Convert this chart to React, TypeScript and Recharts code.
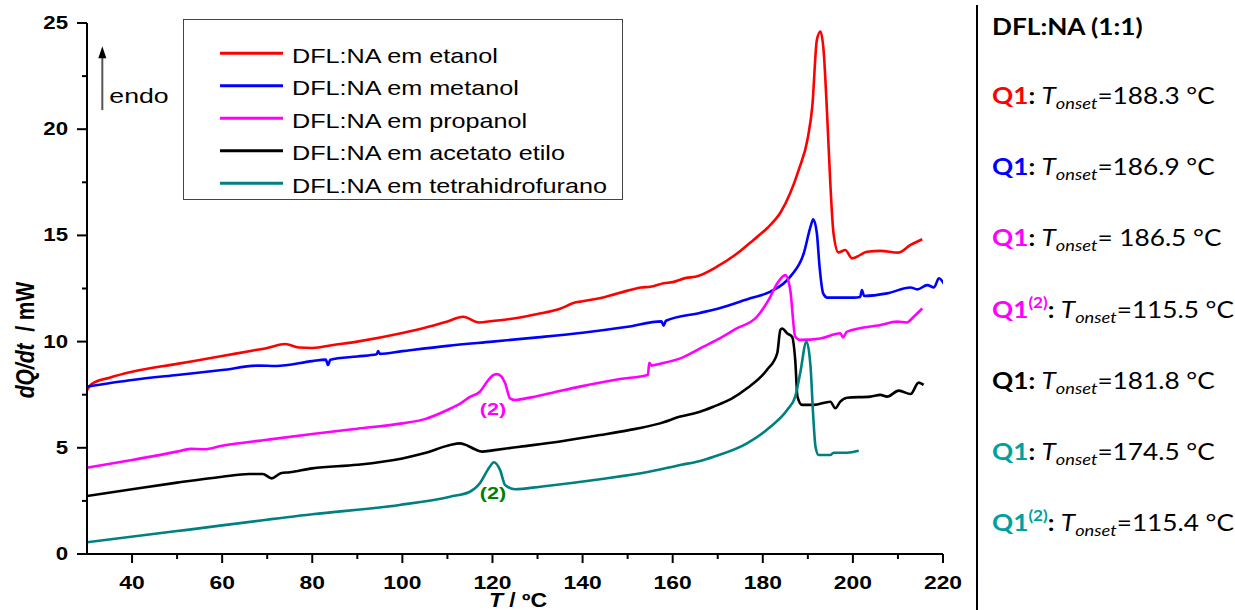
import { LineChart, Line, XAxis, YAxis, ReferenceDot, ReferenceLine } from "recharts";

// DSC curves, DFL:NA (1:1) co-crystals from different solvents
const etanolT = [30, 31, 35, 40, 50, 60, 66, 70, 74, 77, 80, 85, 90, 100, 105, 110, 113.5, 117, 120, 125, 130, 135, 138.5, 140, 145, 150, 153, 155, 158, 160, 163, 165, 170, 174, 178, 181, 184, 186, 188, 190, 191, 192, 192.8, 193.5, 194.3, 195, 195.7, 196.8, 198.3, 199.8, 203.2, 206.1, 210.1, 212.8, 215.4];
const etanolQ = [7.72, 8.0, 8.3, 8.58, 8.95, 9.32, 9.55, 9.7, 9.89, 9.72, 9.7, 9.85, 10.0, 10.4, 10.65, 10.95, 11.17, 10.9, 10.97, 11.1, 11.3, 11.55, 11.85, 11.9, 12.1, 12.4, 12.55, 12.58, 12.75, 12.8, 13.0, 13.05, 13.55, 14.1, 14.8, 15.35, 16.1, 16.95, 18.1, 19.6, 21.1, 24.2, 24.6, 23.7, 20.6, 17.4, 15.1, 14.2, 14.31, 13.92, 14.23, 14.27, 14.19, 14.55, 14.82];

const metanolT = [30, 40, 50, 60, 68, 72, 80, 83, 83.5, 84, 90, 94.3, 94.6, 95, 100, 110, 120, 130, 140, 150, 157.5, 158, 158.5, 166, 170, 177.2, 181.7, 186.1, 189.1, 190.6, 191.2, 192, 192.6, 193.4, 194.3, 200.2, 201.6, 202, 202.5, 207.6, 212.8, 214.3, 216.5, 218, 219.1, 220.2];
const metanolQ = [7.88, 8.19, 8.43, 8.66, 8.87, 8.85, 9.08, 9.15, 8.9, 9.15, 9.3, 9.4, 9.55, 9.42, 9.55, 9.8, 10.0, 10.2, 10.42, 10.7, 10.95, 10.75, 10.98, 11.35, 11.55, 12.04, 12.35, 13.06, 14.16, 15.41, 15.76, 15.1, 13.53, 12.27, 12.07, 12.07, 12.1, 12.43, 12.15, 12.27, 12.55, 12.46, 12.66, 12.55, 12.98, 12.72];

const propanolT = [30, 40, 50, 53, 56, 60, 70, 80, 90, 100, 105, 110, 113, 115, 117.2, 118.8, 120, 121, 122, 122.8, 123.9, 125, 128, 132.8, 139.4, 148.3, 154.5, 154.8, 155.3, 157, 161.7, 166.1, 170, 174, 178.7, 181.3, 183.2, 185, 186.1, 187.2, 188.3, 192.8, 197.2, 197.8, 198.7, 206.1, 209.8, 212, 213.5, 215.4];
const propanolQ = [4.06, 4.43, 4.82, 4.95, 4.93, 5.1, 5.38, 5.65, 5.9, 6.15, 6.35, 6.78, 7.1, 7.4, 7.64, 8.11, 8.4, 8.47, 8.35, 8.05, 7.33, 7.25, 7.35, 7.57, 7.88, 8.24, 8.43, 9.0, 8.87, 8.95, 9.21, 9.68, 10.1, 10.6, 11.17, 11.96, 12.74, 13.13, 12.43, 10.23, 10.08, 10.15, 10.39, 10.2, 10.47, 10.78, 10.94, 10.9, 11.17, 11.56];

const acetatoT = [30, 40, 50, 60, 66, 69, 71, 73, 75, 80, 90, 100, 105, 110.6, 112.8, 114.5, 116.1, 117.7, 120, 126.1, 135, 143.9, 150, 157.2, 161.7, 166.1, 169.1, 173, 176.5, 180.9, 183.2, 183.9, 184.3, 185.4, 186.5, 187.2, 187.7, 188.7, 191.3, 195, 196.1, 197.2, 198.7, 203.9, 206.1, 207.6, 210.2, 212.8, 214.6, 215.7];
const acetatoQ = [2.73, 3.05, 3.36, 3.64, 3.77, 3.77, 3.56, 3.8, 3.85, 4.03, 4.2, 4.5, 4.75, 5.13, 5.21, 5.1, 4.93, 4.82, 4.88, 5.05, 5.3, 5.6, 5.82, 6.15, 6.47, 6.7, 6.94, 7.3, 7.8, 8.66, 9.45, 10.55, 10.62, 10.39, 10.23, 9.13, 7.41, 7.02, 7.02, 7.17, 6.86, 7.17, 7.36, 7.41, 7.49, 7.41, 7.69, 7.53, 8.07, 7.96];

const thfT = [30, 50, 80, 99.4, 110.6, 115, 117.2, 119.4, 120.3, 121.7, 122.8, 125, 130.6, 143.9, 155, 161.7, 166.1, 169.1, 176.5, 181.7, 185.4, 187.2, 188.3, 189.7, 190.6, 191.2, 191.7, 192.4, 195, 195.7, 198.7, 201.3];
const thfQ = [0.55, 1.08, 1.87, 2.31, 2.7, 2.93, 3.33, 4.11, 4.32, 3.95, 3.25, 3.05, 3.17, 3.52, 3.88, 4.19, 4.38, 4.58, 5.21, 5.99, 6.78, 7.41, 8.51, 10.0, 8.82, 6.47, 5.05, 4.66, 4.66, 4.77, 4.77, 4.86];

const xTicks = [40, 50, 60, 70, 80, 90, 100, 110, 120, 130, 140, 150, 160, 170, 180, 190, 200, 210, 220];
const yTicks = [0, 2.5, 5, 7.5, 10, 12.5, 15, 17.5, 20, 22.5, 25];

const onsetValues = ["188.3", "186.9", " 186.5", "115.5", "181.8", "174.5", "115.4"];
const onsetColors = ["#ff0000", "#0000ff", "#ff00ff", "#ff00ff", "#000000", "#00a0a0", "#00a0a0"];
const onsetSecond = [false, false, false, true, false, false, true];

const zip = (t: number[], q: number[]) => t.map((v, i) => ({ t: v, q: q[i] }));

const series = [
  { name: "DFL:NA em etanol", color: "#ff0000", data: zip(etanolT, etanolQ) },
  { name: "DFL:NA em metanol", color: "#0000ff", data: zip(metanolT, metanolQ) },
  { name: "DFL:NA em propanol", color: "#ff00ff", data: zip(propanolT, propanolQ) },
  { name: "DFL:NA em acetato etilo", color: "#000000", data: zip(acetatoT, acetatoQ) },
  { name: "DFL:NA em tetrahidrofurano", color: "#008080", data: zip(thfT, thfQ) },
];

const FONT = "'Liberation Sans', Arial, sans-serif";
const SX = 1.27; // the picture is stretched sideways

function XTick(props: any) {
  const { x, y, payload } = props;
  const major = payload.value % 20 === 0;
  return (
    <g>
      <line x1={x} x2={x} y1={y} y2={y + (major ? 9 : 5)} stroke="#000" strokeWidth={2} />
      {major && (
        <text transform={`translate(${x},${y + 35}) scale(${SX},1)`} textAnchor="middle" fontFamily={FONT} fontWeight="bold" fontSize={18} fill="#000">
          {payload.value}
        </text>
      )}
    </g>
  );
}

function YTick(props: any) {
  const { x, y, payload } = props;
  const major = payload.value % 5 === 0;
  return (
    <g>
      <line x1={x} x2={x - (major ? 10 : 5)} y1={y} y2={y} stroke="#000" strokeWidth={2} />
      {major && (
        <text transform={`translate(${x - 19},${y + 6}) scale(${SX},1)`} textAnchor="end" fontFamily={FONT} fontWeight="bold" fontSize={17.5} fill="#000">
          {payload.value}
        </text>
      )}
    </g>
  );
}

const note = (color: string) => (p: any) => (
  <text transform={`translate(${p.cx},${p.cy + 6}) scale(${SX},1)`} textAnchor="middle" fontFamily={FONT} fontWeight="bold" fontSize={17} fill={color}>
    (2)
  </text>
);

const endoArrow = (p: any) => {
  const x = p.x1;
  const yb = Math.max(p.y1, p.y2);
  const yt = Math.min(p.y1, p.y2);
  return (
    <g>
      <line x1={x} x2={x} y1={yb} y2={yt + 10} stroke="#555" strokeWidth={2} />
      <polygon points={`${x},${yt} ${x - 4},${yt + 12} ${x + 4},${yt + 12}`} fill="#000" />
      <text transform={`translate(${x + 7},${yb - 7}) scale(${SX},1)`} fontFamily={FONT} fontSize={21} fill="#000">
        endo
      </text>
    </g>
  );
};

export default function App() {
  return (
    <div style={{ position: "absolute", left: 0, top: 0, width: 1235, height: 610, background: "#fff", overflow: "hidden" }}>
      <LineChart width={980} height={610} margin={{ top: 23, right: 37, bottom: 0, left: 0 }}>
        <XAxis
          type="number"
          dataKey="t"
          domain={[30, 220]}
          ticks={xTicks}
          interval={0}
          allowDataOverflow
          height={56}
          tickSize={0}
          tickMargin={0}
          tickLine={false}
          tick={<XTick />}
          axisLine={{ stroke: "#000", strokeWidth: 2 }}
        />
        <YAxis
          type="number"
          domain={[0, 25]}
          ticks={yTicks}
          interval={0}
          allowDataOverflow
          width={87}
          tickSize={0}
          tickMargin={0}
          tickLine={false}
          tick={<YTick />}
          axisLine={{ stroke: "#000", strokeWidth: 2 }}
        />
        {series.map((s) => (
          <Line
            key={s.name}
            data={s.data}
            dataKey="q"
            name={s.name}
            type="monotone"
            stroke={s.color}
            strokeWidth={2.6}
            dot={false}
            activeDot={false}
            isAnimationActive={false}
          />
        ))}
        <ReferenceDot x={120.1} y={6.83} r={0} shape={note("#ff00ff")} />
        <ReferenceDot x={120.1} y={2.87} r={0} shape={note("#008000")} />
        <ReferenceLine segment={[{ x: 33.4, y: 20.9 }, { x: 33.4, y: 23.9 }]} shape={endoArrow} />
        <text transform={`translate(34,340) scale(${SX},1) rotate(-90)`} textAnchor="middle" fontFamily={FONT} fontWeight="bold" fontSize={21} fill="#000">
          <tspan fontStyle="italic">dQ/dt</tspan>
          <tspan>{"\u00a0\u00a0/ mW"}</tspan>
        </text>
        <text transform={`translate(518,607) scale(1.15,1)`} textAnchor="middle" fontFamily={FONT} fontWeight="bold" fontSize={20} fill="#000">
          <tspan fontStyle="italic">T</tspan>
          <tspan>{" / ºC"}</tspan>
        </text>
      </LineChart>

      <svg width={440} height={181} style={{ position: "absolute", left: 183, top: 19 }}>
        <rect x={0.5} y={0.5} width={439} height={180} fill="#fff" stroke="#444" strokeWidth={1} />
        {series.map((s, i) => {
          const ly = 34.3 + i * 32.5;
          return (
            <g key={s.name}>
              <line x1={37} x2={100} y1={ly} y2={ly} stroke={s.color} strokeWidth={3} />
              <text transform={`translate(109,${ly + 9.5}) scale(1.26,1)`} fontFamily={FONT} fontSize={20} fill="#000">
                {s.name}
              </text>
            </g>
          );
        })}
      </svg>

      <svg width={260} height={610} style={{ position: "absolute", left: 975, top: 0 }}>
        <line x1={2} x2={2} y1={5} y2={610} stroke="#000" strokeWidth={2} />
        <text transform="translate(17,35) scale(1.14,1)" fontFamily="Lato, 'Open Sans', sans-serif" fontWeight="bold" fontSize={23} fill="#000">
          DFL:NA (1:1)
        </text>
        {onsetValues.map((v, i) => (
          <text key={i} transform={`translate(17,${104 + i * 71.2}) scale(1.14,1)`} fontFamily="Lato, 'Open Sans', sans-serif" fontSize={23} fill="#000">
            <tspan fontWeight="bold" fill={onsetColors[i]}>Q1</tspan>
            {onsetSecond[i] && (
              <tspan fontWeight="bold" fill={onsetColors[i]} fontSize={15} dy={-10}>(2)</tspan>
            )}
            <tspan fontWeight="bold" dy={onsetSecond[i] ? 10 : 0}>: </tspan>
            <tspan fontStyle="italic">T</tspan>
            <tspan fontStyle="italic" fontSize={16} dy={5}>onset</tspan>
            <tspan dy={-5}>{"=" + v + " °C"}</tspan>
          </text>
        ))}
      </svg>
    </div>
  );
}
